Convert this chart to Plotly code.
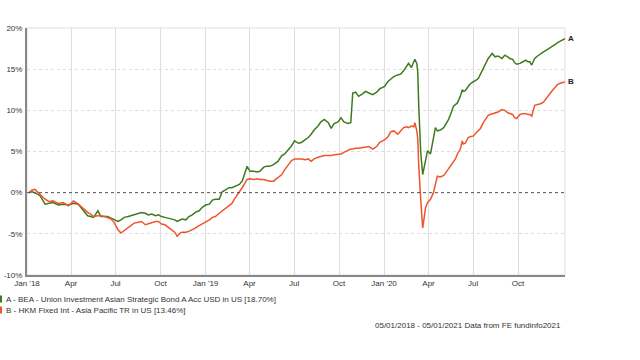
import plotly.graph_objects as go

dates = [
    "2018-01-05", "2018-01-11", "2018-01-17", "2018-01-28", "2018-02-07", "2018-02-15", "2018-02-23",
    "2018-03-06", "2018-03-16", "2018-03-27", "2018-04-06", "2018-04-16", "2018-04-25", "2018-05-05",
    "2018-05-11", "2018-05-17", "2018-05-26", "2018-06-01", "2018-06-09", "2018-06-15", "2018-06-22",
    "2018-06-28", "2018-07-06", "2018-07-12", "2018-07-19", "2018-07-27", "2018-08-02", "2018-08-08",
    "2018-08-17", "2018-08-23", "2018-08-31", "2018-09-06", "2018-09-13", "2018-09-21", "2018-09-27",
    "2018-10-03", "2018-10-10", "2018-10-18", "2018-10-24", "2018-10-30", "2018-11-04", "2018-11-10",
    "2018-11-14", "2018-11-22", "2018-11-28", "2018-12-05", "2018-12-11", "2018-12-19", "2018-12-25",
    "2019-01-01", "2019-01-09", "2019-01-15", "2019-01-21", "2019-01-29", "2019-02-04", "2019-02-10",
    "2019-02-18", "2019-02-24", "2019-03-02", "2019-03-11", "2019-03-17", "2019-03-21", "2019-03-27",
    "2019-04-02", "2019-04-10", "2019-04-16", "2019-04-22", "2019-04-30", "2019-05-06", "2019-05-12",
    "2019-05-20", "2019-05-29", "2019-06-06", "2019-06-12", "2019-06-20", "2019-06-26", "2019-07-02",
    "2019-07-10", "2019-07-16", "2019-07-24", "2019-07-30", "2019-08-05", "2019-08-11", "2019-08-19",
    "2019-08-25", "2019-09-01", "2019-09-09", "2019-09-15", "2019-09-21", "2019-09-29", "2019-10-05",
    "2019-10-11", "2019-10-19", "2019-10-25", "2019-10-29", "2019-11-04", "2019-11-10", "2019-11-18",
    "2019-11-24", "2019-12-01", "2019-12-09", "2019-12-17", "2019-12-23",
    "2020-01-02", "2020-01-09", "2020-01-15", "2020-01-21", "2020-01-29", "2020-02-04", "2020-02-10",
    "2020-02-16", "2020-02-20", "2020-02-26", "2020-03-02", "2020-03-04", "2020-03-08", "2020-03-10",
    "2020-03-12", "2020-03-16", "2020-03-20", "2020-03-22", "2020-03-26", "2020-03-30", "2020-04-05",
    "2020-04-11", "2020-04-15", "2020-04-19", "2020-04-25", "2020-05-02", "2020-05-06", "2020-05-12",
    "2020-05-16", "2020-05-22", "2020-05-26", "2020-05-30", "2020-06-05", "2020-06-09", "2020-06-11",
    "2020-06-15", "2020-06-21", "2020-06-25", "2020-07-02", "2020-07-06", "2020-07-12", "2020-07-16",
    "2020-07-22", "2020-07-28", "2020-08-01", "2020-08-05", "2020-08-09", "2020-08-15", "2020-08-21",
    "2020-08-29", "2020-09-04", "2020-09-10", "2020-09-14", "2020-09-20", "2020-09-24", "2020-09-28",
    "2020-10-05", "2020-10-11", "2020-10-17", "2020-10-21", "2020-10-25", "2020-10-29", "2020-11-04",
    "2020-11-10", "2020-11-16", "2020-11-22", "2020-11-28", "2020-12-04", "2020-12-10", "2020-12-16",
    "2020-12-20", "2020-12-26", "2021-01-05",
]

series_a = [
    0.0, 0.1, 0.0, -0.4, -1.4, -1.3, -1.2,
    -1.5, -1.4, -1.5, -1.3, -1.4, -2.0, -2.8,
    -2.9, -3.0, -2.2, -2.9, -2.9, -2.9, -3.1,
    -3.3, -3.5, -3.3, -3.0, -2.9, -2.8, -2.7,
    -2.5, -2.4, -2.5, -2.7, -2.6, -2.8, -2.7,
    -2.9, -3.0, -3.1, -3.2, -3.3, -3.5, -3.3,
    -3.2, -3.3, -2.9, -2.7, -2.4, -2.2, -1.8,
    -1.5, -1.4, -0.9, -0.8, -0.8, 0.1, 0.3,
    0.6, 0.6, 0.8, 1.0, 1.4, 2.2, 3.2,
    2.6, 2.6, 2.5, 2.6, 3.1, 3.2, 3.2,
    3.4, 3.8, 4.5, 4.7, 5.3, 5.7, 6.3,
    6.0, 6.1, 6.4, 6.7, 7.1, 7.6, 8.1,
    8.6, 8.9, 8.5, 7.8, 8.4, 8.6, 9.1,
    8.6, 8.4, 8.5, 12.1, 12.2, 11.7, 12.0,
    12.3, 12.1, 11.9, 12.2, 12.6,
    12.9, 13.5, 13.8, 14.1, 14.3, 14.4, 14.8,
    15.3, 15.7, 15.2, 15.9, 16.2, 15.7, 14.6,
    10.5, 4.9, 2.2, 2.8, 4.1, 5.1, 4.7,
    6.5, 7.9, 7.5, 7.6, 7.9, 8.3, 8.9,
    9.5, 10.5, 10.7, 10.9, 11.7, 12.5, 12.3,
    12.4, 12.9, 13.2, 13.5, 13.6, 13.9, 14.4,
    15.1, 15.8, 16.3, 16.6, 16.9, 16.5, 16.6,
    16.3, 16.7, 16.5, 16.3, 16.2, 15.8, 15.6,
    15.7, 15.9, 16.1, 15.9, 15.9, 15.5, 16.3,
    16.6, 16.9, 17.1, 17.3, 17.5, 17.8, 18.0,
    18.2, 18.4, 18.70,
]

series_b = [
    0.0, 0.3, 0.4, -0.2, -0.8, -1.1, -1.0,
    -1.3, -1.2, -1.6, -1.0, -1.4, -1.9, -2.4,
    -2.6, -2.9, -2.8, -2.8, -2.9, -3.0, -3.2,
    -3.6, -4.5, -4.9, -4.6, -4.3, -4.0, -3.7,
    -3.6, -3.5, -3.9, -3.8, -3.6, -3.5, -3.5,
    -3.8, -3.9, -4.3, -4.5, -4.8, -5.3, -4.9,
    -4.8, -4.8, -4.7, -4.5, -4.3, -4.0, -3.8,
    -3.6, -3.3, -3.0, -2.9, -2.5, -2.2, -1.9,
    -1.6, -1.3, -0.7, 0.0, 0.6, 1.0, 1.6,
    1.7, 1.6, 1.7, 1.6, 1.6, 1.5, 1.4,
    1.4, 1.8, 2.2, 2.8, 3.4, 3.9, 4.1,
    4.1, 4.1, 4.0, 4.1, 3.8, 4.1, 4.3,
    4.4, 4.5, 4.5, 4.5, 4.6, 4.7, 4.7,
    4.9, 5.1, 5.3, 5.3, 5.4, 5.4, 5.5,
    5.6, 5.6, 5.3, 5.6, 6.1,
    6.4, 6.8, 7.4, 7.5, 7.1, 7.5, 7.9,
    8.0, 7.9, 8.1, 8.0, 8.5, 7.5, 6.5,
    3.2, -0.8, -4.3, -3.5, -1.8, -1.2, -0.8,
    0.0, 1.0, 2.0, 1.9, 2.1, 2.4, 2.9,
    3.2, 3.8, 4.1, 4.7, 5.3, 6.3, 5.9,
    6.0, 6.7, 6.8, 6.9, 7.2, 7.5, 7.8,
    8.5, 9.0, 9.4, 9.5, 9.6, 9.7, 9.8,
    10.1, 10.0, 9.7, 9.6, 9.5, 9.1, 9.0,
    9.5, 9.6, 9.6, 9.5, 9.5, 9.3, 10.6,
    10.7, 10.8, 11.0, 11.5, 11.9, 12.4, 12.8,
    13.1, 13.3, 13.46,
]

series_names = [
    "A - BEA - Union Investment Asian Strategic Bond A Acc USD in US [18.70%]",
    "B - HKM Fixed Int - Asia Pacific TR in US [13.46%]",
]
end_labels = ["A", "B"]
colors = ["#3f7a1e", "#f0542c"]

x_tickvals = ["2018-01-01", "2018-04-01", "2018-07-01", "2018-10-01",
              "2019-01-01", "2019-04-01", "2019-07-01", "2019-10-01",
              "2020-01-01", "2020-04-01", "2020-07-01", "2020-10-01"]
x_ticktext = ["Jan '18", "Apr", "Jul", "Oct", "Jan '19", "Apr", "Jul", "Oct",
              "Jan '20", "Apr", "Jul", "Oct"]
y_tickvals = [-10, -5, 0, 5, 10, 15, 20]
y_ticktext = ["-10%", "-5%", "0%", "5%", "10%", "15%", "20%"]

footer = "05/01/2018 - 05/01/2021 Data from FE fundinfo2021"

FONT = "Liberation Sans, Arial, sans-serif"

ML, MR, MT, MB = 27, 75, 28, 85
PW = 640 - ML - MR
PH = 360 - MT - MB

fig = go.Figure()
for vals, name, col in zip([series_a, series_b], series_names, colors):
    fig.add_trace(go.Scatter(x=dates, y=vals, mode="lines", name=name,
                             line=dict(color=col, width=1.5), showlegend=False))

fig.add_hline(y=0, line=dict(color="#555555", width=1, dash="dot"))

for vals, lab in zip([series_a, series_b], end_labels):
    fig.add_annotation(x=dates[-1], y=vals[-1], text="<b>" + lab + "</b>", showarrow=False,
                       xanchor="left", xshift=1, font=dict(family=FONT, size=8, color="#222222"))

legend_rows_px = [299, 310]
for name, col, py in zip(series_names, colors, legend_rows_px):
    yy = (360 - MB - py) / PH
    fig.add_annotation(xref="paper", yref="paper", x=(4 - ML) / PW, y=yy, text=name,
                       showarrow=False, xanchor="left", yanchor="middle",
                       font=dict(family=FONT, size=8, color="#333333"))
    fig.add_shape(type="rect", xref="paper", yref="paper",
                  x0=(0 - ML) / PW, x1=(2 - ML) / PW, y0=yy - 3.5 / PH, y1=yy + 3.5 / PH,
                  fillcolor=col, line=dict(width=0))

fig.add_annotation(xref="paper", yref="paper", x=(563 - ML) / PW, y=(360 - MB - 325) / PH,
                   text=footer, showarrow=False, xanchor="right", yanchor="middle",
                   font=dict(family=FONT, size=8, color="#333333"))

fig.update_xaxes(range=["2018-01-01", "2021-01-05"], tickvals=x_tickvals, ticktext=x_ticktext,
                 showgrid=True, gridcolor="#dddddd", gridwidth=1,
                 showline=True, linecolor="#888888", linewidth=1.5,
                 ticks="", tickfont=dict(family=FONT, size=8, color="#333333"),
                 zeroline=False, automargin=False)
fig.update_yaxes(range=[-10, 20], tickvals=y_tickvals, ticktext=y_ticktext,
                 showgrid=True, gridcolor="#dddddd", gridwidth=1, griddash="dot",
                 showline=True, linecolor="#888888", linewidth=2, ticklabelstandoff=1,
                 ticks="", tickfont=dict(family=FONT, size=8, color="#333333"),
                 zeroline=False, automargin=False)

fig.add_shape(type="rect", xref="paper", yref="paper", x0=0, x1=1, y0=0, y1=1,
              line=dict(color="#dddddd", width=1), layer="below")

fig.update_layout(width=640, height=360, margin=dict(l=ML, r=MR, t=MT, b=MB, autoexpand=False),
                  paper_bgcolor="white", plot_bgcolor="white",
                  font=dict(family=FONT, size=8, color="#333333"))

fig.write_html("out.html", config={"displayModeBar": False},
               post_script="document.body.style.margin='0';")
